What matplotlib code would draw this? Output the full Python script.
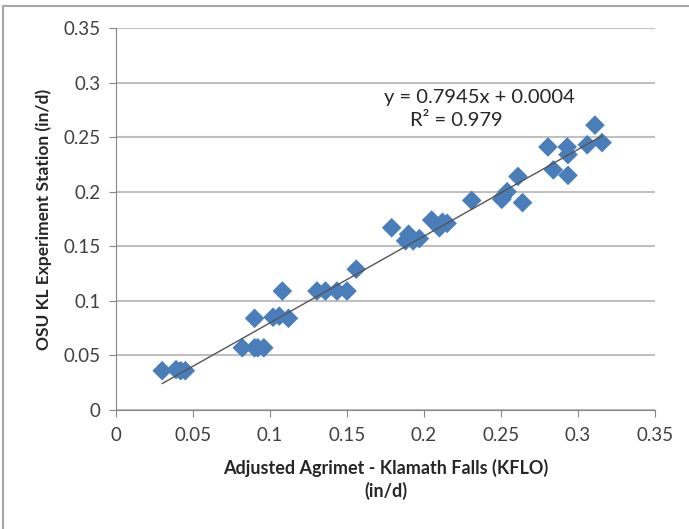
import matplotlib.pyplot as plt
import numpy as np
from matplotlib.lines import Line2D

# Monthly evaporation, Agrimet (x) vs OSU KL station (y), in/d
agrimet = [0.030, 0.039, 0.042, 0.045,
           0.082, 0.090, 0.092, 0.096,
           0.090, 0.102, 0.106, 0.112, 0.108,
           0.1305, 0.136, 0.1435, 0.150, 0.156,
           0.179, 0.190, 0.188, 0.193, 0.197,
           0.205, 0.212, 0.210, 0.215,
           0.231, 0.251, 0.254, 0.2505, 0.264, 0.261,
           0.2805, 0.293, 0.2935, 0.284, 0.2935,
           0.306, 0.311, 0.3156]
osu_kl = [0.036, 0.037, 0.036, 0.036,
          0.057, 0.057, 0.057, 0.057,
          0.084, 0.085, 0.086, 0.084, 0.109,
          0.109, 0.109, 0.109, 0.109, 0.129,
          0.167, 0.161, 0.155, 0.155, 0.157,
          0.174, 0.172, 0.167, 0.171,
          0.192, 0.195, 0.200, 0.193, 0.190, 0.214,
          0.241, 0.241, 0.234, 0.220, 0.215,
          0.243, 0.261, 0.245]

slope = 0.7945
intercept = 0.0004
r2 = 0.979

x_ticks = [0, 0.05, 0.1, 0.15, 0.2, 0.25, 0.3, 0.35]
y_ticks = [0, 0.05, 0.1, 0.15, 0.2, 0.25, 0.3, 0.35]
tick_labels = ['0', '0.05', '0.1', '0.15', '0.2', '0.25', '0.3', '0.35']

plt.rcParams['font.family'] = ['Lato', 'DejaVu Sans']

fig = plt.figure(figsize=(6.89, 5.29), dpi=100)
ax = fig.add_axes([116 / 689, 1 - 410 / 529, (655 - 116) / 689, (410 - 28) / 529])

# chart frame (top & left edges visible in the crop)
fig.add_artist(Line2D([3 / 689, 3 / 689], [0, 1 - 6 / 529], color='#a6a6a6', lw=1.5))
fig.add_artist(Line2D([3 / 689, 1], [1 - 6 / 529, 1 - 6 / 529], color='#a6a6a6', lw=1.5))

ax.scatter(agrimet, osu_kl, marker='D', s=100, color='#4a7ebb', edgecolors='none', zorder=3)

xs = np.array([min(agrimet), max(agrimet)])
ax.plot(xs, slope * xs + intercept, color='#555555', lw=1, zorder=4)

ax.set_xlim(0, 0.35)
ax.set_ylim(0, 0.35)
ax.set_xticks(x_ticks)
ax.set_xticklabels(tick_labels)
ax.set_yticks(y_ticks)
ax.set_yticklabels(tick_labels)
ax.yaxis.grid(True, color='#bfbfbf', lw=1.5, zorder=0)
ax.set_axisbelow(True)

for side in ['top', 'right']:
    ax.spines[side].set_visible(False)
ax.spines['left'].set_color('#868686')
ax.spines['bottom'].set_color('#868686')
ax.tick_params(axis='both', colors='#868686', labelcolor='#404040', labelsize=13.5,
               length=5, direction='out')
ax.tick_params(axis='x', pad=7)
ax.tick_params(axis='y', pad=6)

ax.set_xlabel('Adjusted Agrimet - Klamath Falls (KFLO)\n(in/d)', fontsize=13,
              fontweight='bold', color='#262626', labelpad=11, linespacing=1.35)
ax.set_ylabel('OSU KL Experiment Station (in/d)', fontsize=12.5,
              fontweight='bold', color='#262626', labelpad=8)

ax.text(0.236, 0.2866, f'y = {slope}x + {intercept}', fontsize=14.5, color='#262626',
        ha='center', va='center')
ax.text(0.221, 0.2656, f'R² = {r2}', fontsize=14.5, color='#262626',
        ha='center', va='center')

fig.savefig('out.png', dpi=100)
